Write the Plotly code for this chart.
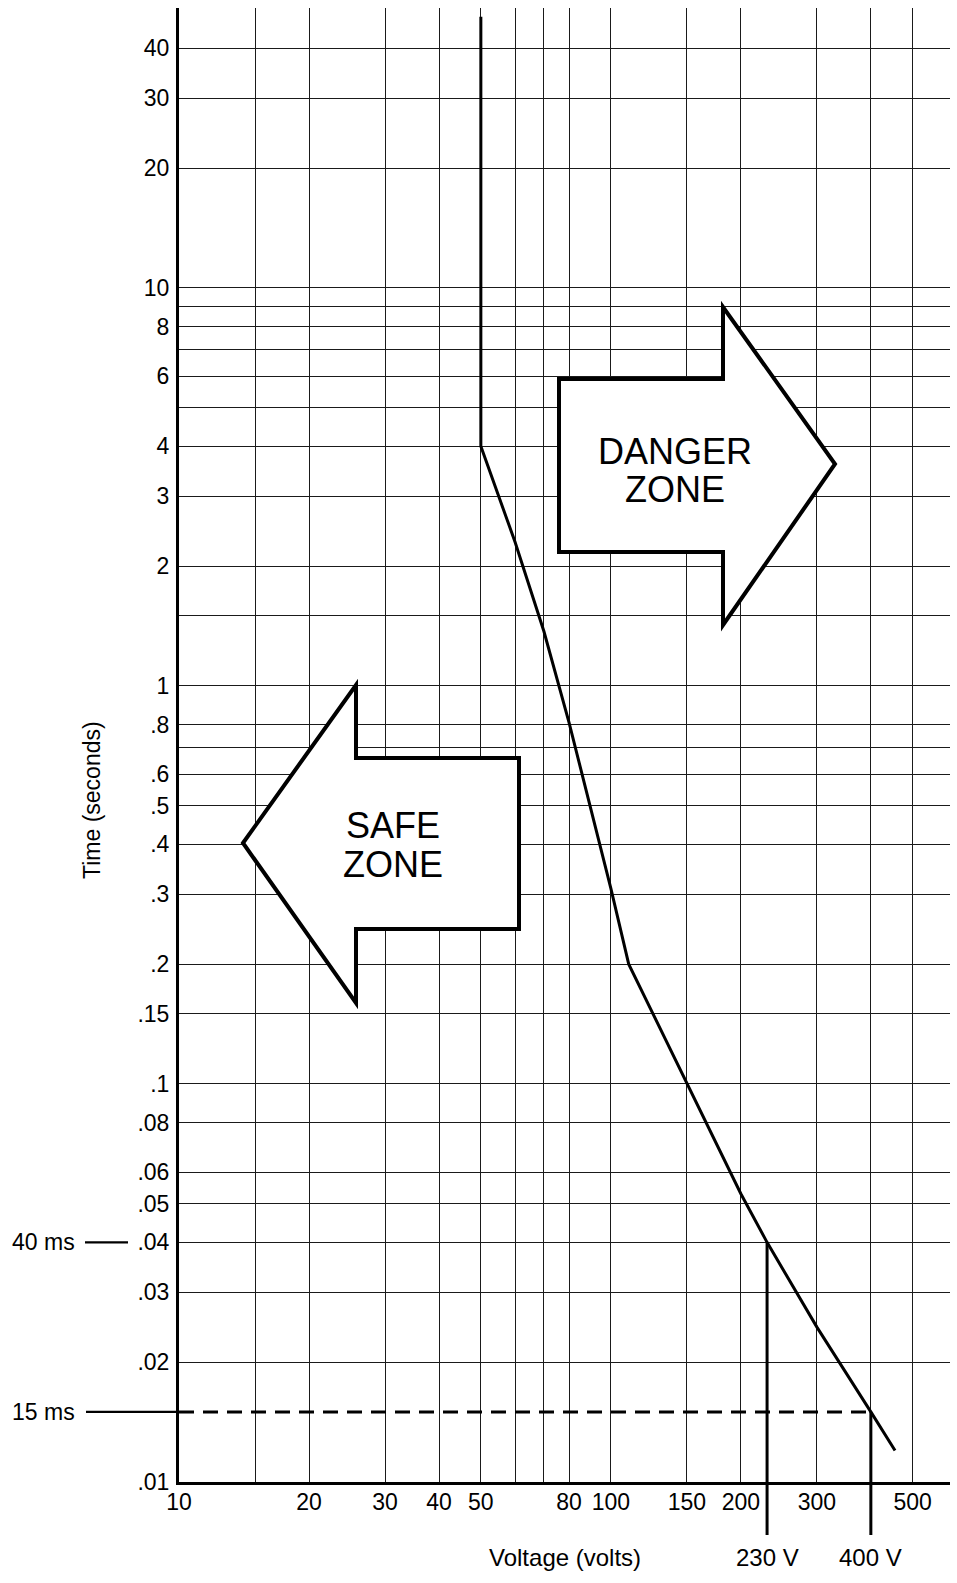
import numpy as np
import plotly.graph_objects as go

# Permissible touch-voltage curve: voltage (V) against disconnection time (s)
voltage = [50, 50, 60, 70, 80, 100, 110, 150, 200, 230, 300, 400, 455]
time_s = [48, 4, 2.3, 1.37, 0.81, 0.31, 0.2, 0.1, 0.053, 0.04, 0.0245, 0.015, 0.012]

# Marked supply voltages and their disconnection times
mark_voltage = [230, 400]
mark_time = [0.040, 0.015]
mark_v_text = ["230 V", "400 V"]
mark_t_text = ["40 ms", "15 ms"]

# Axis ticks
x_tickvals = [10, 20, 30, 40, 50, 80, 100, 150, 200, 300, 500]
x_ticktext = ["10", "20", "30", "40", "50", "80", "100", "150", "200", "300", "500"]
x_minor = [15, 60, 70, 400]

y_tickvals = [40, 30, 20, 10, 8, 6, 4, 3, 2, 1, 0.8, 0.6, 0.5, 0.4, 0.3, 0.2,
              0.15, 0.1, 0.08, 0.06, 0.05, 0.04, 0.03, 0.02, 0.01]
y_ticktext = ["40", "30", "20", "10", "8", "6", "4", "3", "2", "1", ".8", ".6",
              ".5", ".4", ".3", ".2", ".15", ".1", ".08", ".06", ".05", ".04",
              ".03", ".02", ".01"]
y_minor = [9, 7, 5, 1.5, 0.7]

X_RANGE = [1.0, np.log10(610)]
Y_RANGE = [-2.0, np.log10(50.5)]

W, H = 957, 1583
ML, MR, MT, MB = 179, 7, 8, 101
PW, PH = W - ML - MR, H - MT - MB

FONT = "Liberation Sans, Arial, Helvetica, sans-serif"
GRID = "#1a1a1a"


def px(x, y):
    """Page pixel position -> paper fraction."""
    return (x - ML) / PW, (H - MB - y) / PH


def path_from(points):
    parts = []
    for i, (x, y) in enumerate(points):
        u, v = px(x, y)
        parts.append(("M" if i == 0 else "L") + f"{u:.5f},{v:.5f}")
    return " ".join(parts) + " Z"


fig = go.Figure()

fig.add_trace(go.Scatter(
    x=voltage, y=time_s, mode="lines",
    line=dict(color="black", width=3),
    hoverinfo="skip", showlegend=False,
))

shapes = []

# 15 ms reference: solid lead-in left of the axis, dashed across to the curve
shapes.append(dict(type="line", xref="paper", yref="y",
                   x0=px(86, 0)[0], x1=0, y0=mark_time[1], y1=mark_time[1],
                   line=dict(color="black", width=2.2)))
shapes.append(dict(type="line", xref="x", yref="y",
                   x0=10, x1=mark_voltage[1], y0=mark_time[1], y1=mark_time[1],
                   line=dict(color="black", width=3, dash="15px,9px")))
# 40 ms lead-in
shapes.append(dict(type="line", xref="paper", yref="y",
                   x0=px(85, 0)[0], x1=px(128, 0)[0], y0=mark_time[0], y1=mark_time[0],
                   line=dict(color="black", width=2.2)))

# Drop lines from the curve down below the voltage axis
below = px(0, 1535)[1]
for v, t in zip(mark_voltage, mark_time):
    shapes.append(dict(type="line", xref="x", yref="y",
                       x0=v, x1=v, y0=10 ** Y_RANGE[0], y1=t,
                       line=dict(color="black", width=3)))
    shapes.append(dict(type="line", xref="x", yref="paper",
                       x0=v, x1=v, y0=below, y1=0,
                       line=dict(color="black", width=3)))

# Zone arrows
danger = [(559, 379), (723, 379), (723, 307), (835, 464), (723, 625), (723, 552), (559, 552)]
safe = [(243, 843), (356, 685), (356, 758), (519, 758), (519, 929), (356, 929), (356, 1003)]
for pts in (danger, safe):
    shapes.append(dict(type="path", xref="paper", yref="paper", path=path_from(pts),
                       fillcolor="white", line=dict(color="black", width=4), layer="above"))

annotations = []


def note(text, x, y, size, **kw):
    u, v = px(x, y)
    d = dict(text=text, xref="paper", yref="paper", x=u, y=v, showarrow=False,
             xanchor="center", yanchor="middle",
             font=dict(family=FONT, size=size, color="black"))
    d.update(kw)
    annotations.append(d)


note("DANGER", 675, 451, 36)
note("ZONE", 675, 489, 36)
note("SAFE", 393, 825, 36)
note("ZONE", 393, 864, 36)

note("Time (seconds)", 92, 800, 23, textangle=-90)
note("Voltage (volts)", 565, 1557, 24)

for v, label in zip(mark_voltage, mark_v_text):
    annotations.append(dict(text=label, xref="x", yref="paper", x=np.log10(v),
                            y=px(0, 1557)[1], showarrow=False, xanchor="center",
                            yanchor="middle",
                            font=dict(family=FONT, size=24, color="black")))

for t, label in zip(mark_time, mark_t_text):
    annotations.append(dict(text=label, xref="paper", yref="y", x=px(77, 0)[0],
                            y=np.log10(t), showarrow=False, xanchor="right",
                            yanchor="middle",
                            font=dict(family=FONT, size=23, color="black")))

fig.update_layout(
    width=W, height=H,
    margin=dict(l=ML, r=MR, t=MT, b=MB, pad=0),
    paper_bgcolor="white", plot_bgcolor="white",
    shapes=shapes, annotations=annotations,
    showlegend=False,
    font=dict(family=FONT, color="black"),
)

fig.update_xaxes(
    type="log", range=X_RANGE,
    tickmode="array", tickvals=x_tickvals, ticktext=x_ticktext,
    tickfont=dict(family=FONT, size=23, color="black"),
    ticks="", ticklabelstandoff=-3,
    showgrid=True, gridcolor=GRID, gridwidth=1.3,
    minor=dict(tickmode="array", tickvals=x_minor, showgrid=True,
               gridcolor=GRID, gridwidth=1.3, ticks=""),
    showline=True, linecolor="black", linewidth=3,
    zeroline=False,
)
fig.update_yaxes(
    type="log", range=Y_RANGE,
    tickmode="array", tickvals=y_tickvals, ticktext=y_ticktext,
    tickfont=dict(family=FONT, size=23, color="black"),
    ticks="", ticklabelstandoff=2,
    showgrid=True, gridcolor=GRID, gridwidth=1.3,
    minor=dict(tickmode="array", tickvals=y_minor, showgrid=True,
               gridcolor=GRID, gridwidth=1.3, ticks=""),
    showline=True, linecolor="black", linewidth=3,
    zeroline=False,
)

fig.write_html("out.html")
